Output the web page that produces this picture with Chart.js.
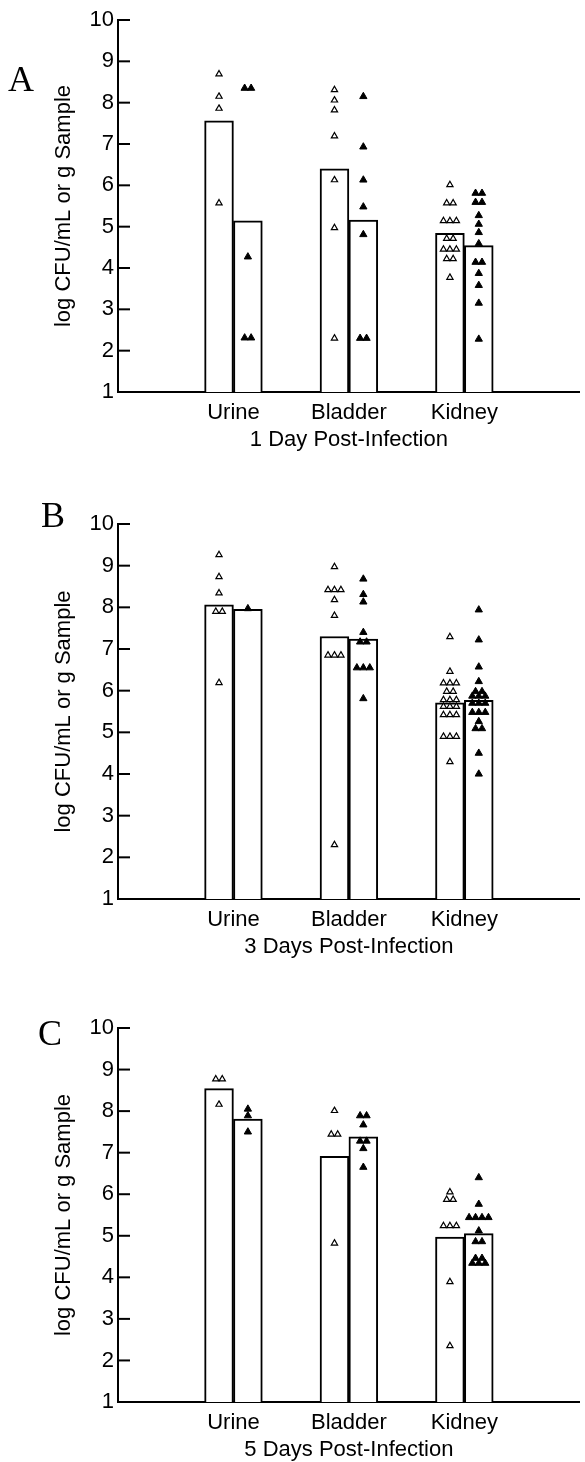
<!DOCTYPE html>
<html>
<head>
<meta charset="utf-8">
<script src="https://cdn.jsdelivr.net/npm/chart.js@4.4.0/dist/chart.umd.min.js"></script>
<style>
  body { margin: 0; background: #fff; }
  #page { position: relative; width: 585px; height: 1462px; }
  #page canvas { position: absolute; left: 0; }
  .tag { position: absolute; font: 36px "Liberation Serif", "Times New Roman", serif; line-height: 36px; color: #000; }
</style>
</head>
<body>
<div id="page">
  <canvas id="chartA" width="585" height="462" style="top:0px"></canvas>
  <canvas id="chartB" width="585" height="465" style="top:504px"></canvas>
  <canvas id="chartC" width="585" height="464" style="top:1008px"></canvas>
  <div class="tag" style="left:8px;top:61px">A</div>
  <div class="tag" style="left:41px;top:497px">B</div>
  <div class="tag" style="left:38px;top:1015px">C</div>
</div>
<script>
/* ---------- Data (log CFU/mL or g sample) ---------- */
const categories = ["Urine", "Bladder", "Kidney"];
const yTicks = [1, 2, 3, 4, 5, 6, 7, 8, 9, 10];
const yTitle = "log CFU/mL or g Sample";

// Day 1
const d1Title = "1 Day Post-Infection";
const d1OpenMean   = [7.56, 6.40, 4.84];
const d1FilledMean = [5.14, 5.16, 4.54];
const d1UrineOpen    = [8.69, 8.15, 7.86, 5.57];
const d1UrineFilled  = [8.35, 8.35, 4.27, 2.31, 2.31];
const d1BladderOpen  = [8.31, 8.06, 7.82, 7.19, 6.13, 4.97, 2.30];
const d1BladderFilled= [8.15, 6.93, 6.13, 5.48, 4.81, 2.30, 2.30];
const d1KidneyOpen   = [6.01, 5.57, 5.57, 5.14, 5.14, 5.14, 4.71, 4.71, 4.45, 4.45, 4.45, 4.22, 4.22, 3.77];
const d1KidneyFilled = [5.81, 5.81, 5.59, 5.59, 5.27, 5.06, 4.86, 4.59, 4.14, 4.14, 3.87, 3.58, 3.15, 2.28];

// Day 3
const d3Title = "3 Days Post-Infection";
const d3OpenMean   = [8.06, 7.30, 5.71];
const d3FilledMean = [7.95, 7.24, 5.77];
const d3UrineOpen    = [9.26, 8.73, 8.34, 7.90, 7.90, 6.19];
const d3UrineFilled  = [7.97];
const d3BladderOpen  = [8.97, 8.42, 8.42, 8.42, 8.18, 7.80, 6.85, 6.85, 6.85, 2.30];
const d3BladderFilled= [8.68, 8.31, 8.13, 7.40, 7.17, 7.17, 6.55, 6.55, 6.55, 5.81];
const d3KidneyOpen   = [7.29, 6.46, 6.18, 6.18, 6.18, 5.98, 5.98, 5.78, 5.78, 5.78, 5.62, 5.62, 5.62, 5.42, 5.42, 5.42, 4.90, 4.90, 4.90, 4.29];
const d3KidneyFilled = [7.94, 7.22, 6.57, 6.22, 5.98, 5.98, 5.87, 5.87, 5.87, 5.70, 5.70, 5.70, 5.48, 5.48, 5.48, 5.26, 5.09, 5.09, 4.50, 4.00];

// Day 5
const d5Title = "5 Days Post-Infection";
const d5OpenMean   = [8.54, 6.91, 4.97];
const d5FilledMean = [7.81, 7.38, 5.05];
const d5UrineOpen    = [8.77, 8.77, 8.16];
const d5UrineFilled  = [8.05, 7.89, 7.50];
const d5BladderOpen  = [8.01, 7.44, 7.44, 4.82];
const d5BladderFilled= [7.89, 7.89, 7.67, 7.28, 7.28, 7.10, 6.65];
const d5KidneyOpen   = [6.05, 5.87, 5.87, 5.24, 5.24, 5.24, 3.89, 2.35];
const d5KidneyFilled = [6.40, 5.76, 5.44, 5.44, 5.44, 5.44, 5.12, 4.86, 4.86, 4.46, 4.46, 4.34, 4.34, 4.34];

/* ---------- Helpers ---------- */
const FONT = "'Liberation Sans', Arial, Helvetica, sans-serif";
const HALF = 0.125;    // bar centre offset from category position (x units)
const SPREAD = 0.056;  // side-by-side spacing for tied values (x units)

// one group's values -> scatter points; tied values sit side by side
function spread(values, center) {
  const counts = {}, seen = {};
  values.forEach(v => { counts[v] = (counts[v] || 0) + 1; });
  return values.map(v => {
    const k = seen[v] = (seen[v] === undefined ? 0 : seen[v] + 1);
    return { x: center + (k - (counts[v] - 1) / 2) * SPREAD, y: v };
  });
}

// y ticks point into the plot
const inwardTicks = {
  id: "inwardTicks",
  afterDraw(chart) {
    const ys = chart.scales.y, left = chart.chartArea.left, ctx = chart.ctx;
    ctx.save();
    ctx.strokeStyle = "#000";
    ctx.lineWidth = 2;
    ys.ticks.forEach(t => {
      const py = ys.getPixelForValue(t.value);
      ctx.beginPath();
      ctx.moveTo(left, py);
      ctx.lineTo(left + 12, py);
      ctx.stroke();
    });
    ctx.restore();
  }
};

const barStyle = {
  backgroundColor: "#fff", borderColor: "#000", borderWidth: 2,
  grouped: false, categoryPercentage: 1, barPercentage: 1, order: 2
};

function makeChart(id, xTitle, openMean, filledMean, openGroups, filledGroups) {
  const openPts = [], filledPts = [];
  openGroups.forEach((g, i) => openPts.push(...spread(g, i + 1 - HALF)));
  filledGroups.forEach((g, i) => filledPts.push(...spread(g, i + 1 + HALF)));

  return new Chart(document.getElementById(id), {
    type: "bar",
    data: {
      datasets: [
        { ...barStyle, data: openMean.map((v, i) => ({ x: i + 1 - HALF, y: v })) },
        { ...barStyle, data: filledMean.map((v, i) => ({ x: i + 1 + HALF, y: v })) },
        { type: "scatter", data: openPts, order: 1,
          pointStyle: "triangle", pointRadius: 3.6, pointBorderWidth: 1.2,
          pointBackgroundColor: "#fff", pointBorderColor: "#000" },
        { type: "scatter", data: filledPts, order: 1,
          pointStyle: "triangle", pointRadius: 4.2, pointBorderWidth: 1,
          pointBackgroundColor: "#000", pointBorderColor: "#000" }
      ]
    },
    options: {
      responsive: false,
      animation: false,
      layout: { padding: { top: 20, right: 1, left: 0, bottom: 0 } },
      plugins: { legend: { display: false }, tooltip: { enabled: false } },
      scales: {
        x: {
          type: "linear",
          min: 0,
          max: categories.length + 1,
          offset: false,
          afterBuildTicks: s => { s.ticks = categories.map((c, i) => ({ value: i + 1 })); },
          grid: { display: false, drawTicks: false, offset: false },
          border: { display: true, color: "#000", width: 2 },
          ticks: { color: "#000", padding: 8, font: { family: FONT, size: 22 }, maxRotation: 0, autoSkip: false,
                   callback: v => categories[v - 1] },
          title: { display: true, text: xTitle, color: "#000", font: { family: FONT, size: 22 }, padding: { top: 0, bottom: 9 } },
          afterFit: s => { s.height = 70; }
        },
        y: {
          min: yTicks[0],
          max: yTicks[yTicks.length - 1],
          afterBuildTicks: s => { s.ticks = yTicks.map(v => ({ value: v })); },
          grid: { display: false, drawTicks: false },
          border: { display: true, color: "#000", width: 2 },
          ticks: { color: "#000", padding: 4, font: { family: FONT, size: 22 } },
          title: { display: true, text: yTitle, color: "#000", font: { family: FONT, size: 22 }, padding: { top: 51, bottom: 0 } },
          afterFit: s => { s.width = 118; }
        }
      }
    },
    plugins: [inwardTicks]
  });
}

makeChart("chartA", d1Title, d1OpenMean, d1FilledMean,
  [d1UrineOpen, d1BladderOpen, d1KidneyOpen], [d1UrineFilled, d1BladderFilled, d1KidneyFilled]);
makeChart("chartB", d3Title, d3OpenMean, d3FilledMean,
  [d3UrineOpen, d3BladderOpen, d3KidneyOpen], [d3UrineFilled, d3BladderFilled, d3KidneyFilled]);
makeChart("chartC", d5Title, d5OpenMean, d5FilledMean,
  [d5UrineOpen, d5BladderOpen, d5KidneyOpen], [d5UrineFilled, d5BladderFilled, d5KidneyFilled]);
</script>
</body>
</html>
